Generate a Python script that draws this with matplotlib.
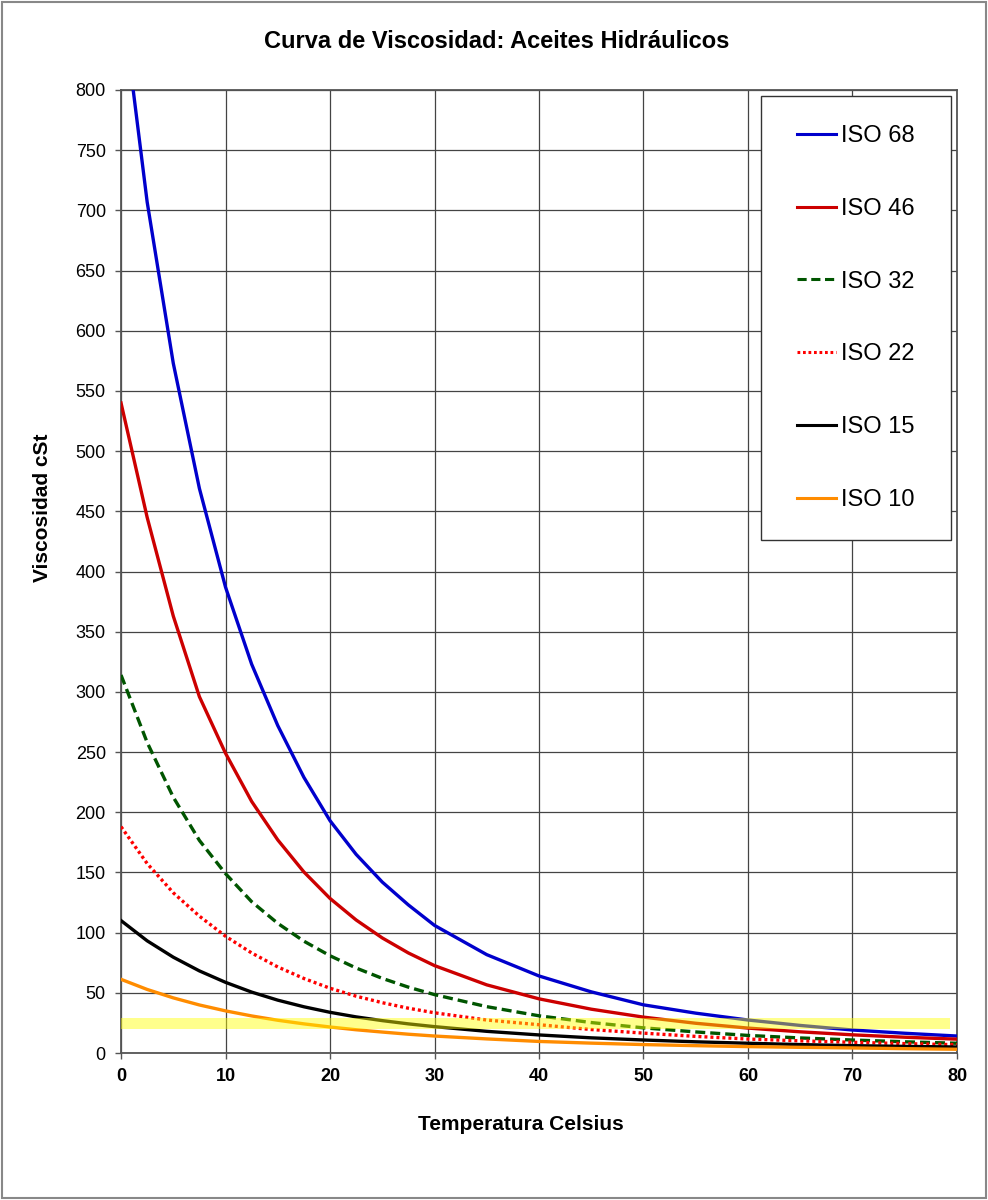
import matplotlib
matplotlib.use('Agg')
import matplotlib.pyplot as plt
from matplotlib.patches import Rectangle
from matplotlib.lines import Line2D

plt.rcParams['font.family'] = ['Liberation Sans', 'DejaVu Sans']

# Temperature (Celsius) and viscosity (cSt)
temps = [0, 2.5, 5, 7.5, 10, 12.5, 15, 17.5, 20, 22.5, 25, 27.5, 30,
         35, 40, 45, 50, 55, 60, 65, 70, 75, 80]
iso68 = [881, 707, 573, 469, 387, 323, 272, 229, 193, 165, 142, 123, 106,
         81.7, 64, 50.8, 40, 33.1, 27.4, 22.9, 19.1, 16.4, 14.1]
iso46 = [540, 445, 363, 296, 249, 209, 177, 150.4, 128.4, 110.5, 95.6, 83.1, 72.6,
         56.6, 45, 36.4, 29.8, 24.7, 20.7, 17.6, 15.1, 13.1, 11.5]
iso32 = [314, 258, 212.5, 176.6, 149, 125.7, 107.7, 92.9, 80.8, 70.6, 62, 54.7, 48.5,
         38.5, 30.9, 25.3, 20.9, 17.5, 14.6, 12.5, 10.8, 9.3, 8.1]
iso22 = [188, 157.4, 133.1, 113.7, 97, 83.1, 71.5, 61.9, 53.8, 47.2, 41.8, 37.2, 33.4,
         27.4, 23.5, 19.5, 16.5, 13.8, 11.6, 10.1, 8.9, 7.8, 6.9]
iso15 = [110, 93.2, 79.6, 68.2, 58.7, 50.6, 43.9, 38.4, 33.8, 30, 26.9, 24.2, 21.9,
         18, 15, 12.6, 10.8, 9.3, 8.1, 7, 6.1, 5.5, 5]
iso10 = [61.2, 52.8, 45.8, 39.9, 35, 30.8, 27.2, 24.2, 21.6, 19.3, 17.4, 15.6, 14.1,
         11.7, 9.6, 8.2, 7, 6.1, 5.3, 4.7, 4.2, 3.6, 3.1]

labels = ['ISO 68', 'ISO 46', 'ISO 32', 'ISO 22', 'ISO 15', 'ISO 10']
series = [iso68, iso46, iso32, iso22, iso15, iso10]
colors = ['#0000CC', '#CC0000', '#005500', '#FF0000', '#000000', '#FF8C00']
styles = ['-', '-', (0, (3, 1.5)), (0, (0.9, 0.9)), '-', '-']

# highlighted band (cSt range)
band_x = [0, 79.3]
band_low = 20
band_high = 29

fig = plt.figure(figsize=(9.88, 12), dpi=100)
ax = fig.add_axes([0.1225, 0.1225, 0.8461, 0.8025])

for vals, lab, c, ls in zip(series, labels, colors, styles):
    ax.plot(temps, vals, color=c, linestyle=ls, linewidth=2.4, label=lab, zorder=3,
            solid_joinstyle='round')

ax.fill_between(band_x, band_low, band_high, color='#FFFF00', alpha=0.45, linewidth=0, zorder=4)

ax.set_xlim(0, 80)
ax.set_ylim(0, 800)
ax.set_xticks(range(0, 81, 10))
ax.set_yticks(range(0, 801, 50))
ax.grid(True, color='#444444', linewidth=0.9, zorder=1)
ax.set_axisbelow(True)
for s in ax.spines.values():
    s.set_color('#555555')
    s.set_linewidth(1.3)
ax.tick_params(axis='y', length=4, width=1, color='#555555', pad=7, labelsize=13)
ax.tick_params(axis='x', length=4, width=1, color='#555555', pad=7, labelsize=13)
for t in ax.get_xticklabels():
    t.set_fontweight('bold')

fig.text(497 / 988, 1 - 42 / 1200, 'Curva de Viscosidad: Aceites Hidráulicos',
         ha='center', va='center', fontsize=17, fontweight='bold')
fig.text(521 / 988, 1 - 1125 / 1200, 'Temperatura Celsius',
         ha='center', va='center', fontsize=15, fontweight='bold')
fig.text(43 / 988, 1 - 508 / 1200, 'Viscosidad cSt', rotation=90,
         ha='center', va='center', fontsize=15, fontweight='bold')

# legend box
lx0, lx1, ly0, ly1 = 761, 951, 96, 540
fig.add_artist(Rectangle((lx0 / 988, 1 - ly1 / 1200), (lx1 - lx0) / 988, (ly1 - ly0) / 1200,
                         transform=fig.transFigure, facecolor='white', edgecolor='#333333',
                         linewidth=1, zorder=3))
handles = [Line2D([], [], color=c, linestyle=ls, linewidth=2.2) for c, ls in zip(colors, styles)]
fig.legend(handles, labels, loc='center', bbox_to_anchor=((lx0 + lx1) / 2 / 988, 1 - (ly0 + ly1) / 2 / 1200),
           frameon=False, fontsize=17, handlelength=1.65, handletextpad=0.2, labelspacing=2.15)

# outer border
fig.add_artist(Rectangle((0.002, 0.002), 0.996, 0.996, transform=fig.transFigure,
                         facecolor='none', edgecolor='#888888', linewidth=1.5, zorder=0))

plt.savefig('out.png', dpi=100)
plt.close()
